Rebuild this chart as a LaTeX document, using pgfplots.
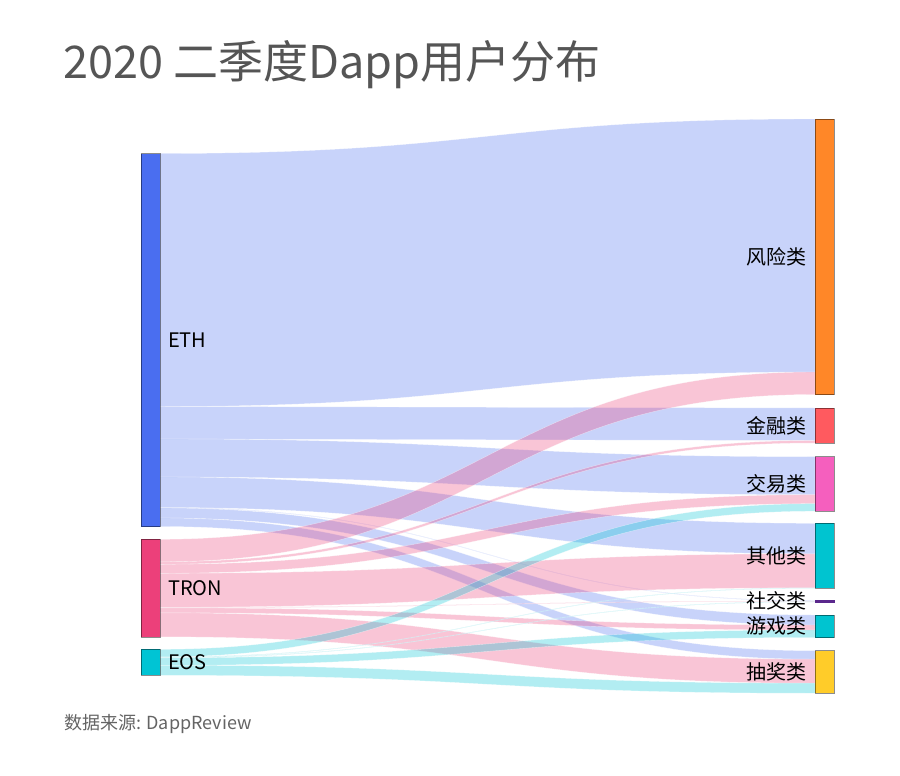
\documentclass[border=0pt]{standalone}
\usepackage{pgfplots}
\pgfplotsset{compat=1.18}
\usepackage{fontspec}
\setmainfont{Noto Sans CJK SC}
\definecolor{cETH}{RGB}{74,110,240}
\definecolor{cTRON}{RGB}{236,64,122}
\definecolor{cEOS}{RGB}{0,196,212}
\definecolor{cRisk}{RGB}{255,135,40}
\definecolor{cFin}{RGB}{255,90,95}
\definecolor{cEx}{RGB}{245,95,190}
\definecolor{cOther}{RGB}{0,196,208}
\definecolor{cSocial}{RGB}{90,40,140}
\definecolor{cGame}{RGB}{0,196,208}
\definecolor{cLot}{RGB}{255,204,41}
\definecolor{titlegray}{RGB}{85,85,85}
\definecolor{notegray}{RGB}{100,100,100}
% link: color, source top, source bottom, target top, target bottom
\newcommand{\link}[5]{%
  \fill[#1, fill opacity=0.3, draw=white, draw opacity=0.5, line width=0.4pt]
    (axis cs:160,#2) .. controls (axis cs:487.5,#2) and (axis cs:487.5,#4) .. (axis cs:815,#4)
    -- (axis cs:815,#5) .. controls (axis cs:487.5,#5) and (axis cs:487.5,#3) .. (axis cs:160,#3) -- cycle;}
\newcommand{\nodebox}[4]{% color, x0, y top, y bottom
  \addplot[fill=#1, draw=black, draw opacity=0.45, line width=0.5pt] coordinates {(#2,#3) ({#2+19},#3) ({#2+19},#4) (#2,#4)} -- cycle;}
\begin{document}
\begin{tikzpicture}
\begin{axis}[
  width=900pt, height=776pt, scale only axis,
  xmin=0, xmax=900, ymin=0, ymax=776, y dir=reverse,
  hide axis, clip=false,
]
\addplot[fill=white, draw=none] coordinates {(0,0) (900,0) (900,776) (0,776)} -- cycle;
% ETH links
\link{cETH}{153.5}{406.5}{119}{372}
\link{cETH}{406.5}{439}{408}{440.5}
\link{cETH}{439}{477}{456.7}{494.7}
\link{cETH}{477}{507.5}{523.3}{553.8}
\link{cETH}{507.5}{508}{600.5}{601}
\link{cETH}{508}{518}{615}{625}
\link{cETH}{518}{526.5}{650.7}{659.2}
% TRON links
\link{cTRON}{539.3}{561.8}{372}{394.5}
\link{cTRON}{561.8}{564.3}{440.5}{443}
\link{cTRON}{564.3}{573.3}{494.7}{503.7}
\link{cTRON}{573.3}{607.3}{553.8}{587.8}
\link{cTRON}{607.3}{607.8}{601}{601.5}
\link{cTRON}{607.8}{612.8}{625}{630}
\link{cTRON}{612.8}{636.8}{659.2}{683.2}
% EOS links
\link{cEOS}{649.3}{656.8}{503.7}{511.2}
\link{cEOS}{656.8}{657.3}{587.8}{588.3}
\link{cEOS}{657.3}{657.8}{601.5}{602}
\link{cEOS}{657.8}{665.3}{630}{637.5}
\link{cEOS}{665.3}{675.3}{683.2}{693.2}
% nodes
\nodebox{cETH}{141}{153.5}{526.5}
\nodebox{cTRON}{141}{539.3}{636.8}
\nodebox{cEOS}{141}{649.3}{675.3}
\nodebox{cRisk}{815}{119}{394.5}
\nodebox{cFin}{815}{408}{443}
\nodebox{cEx}{815}{456.7}{511.2}
\nodebox{cOther}{815}{523.3}{588.3}
\addplot[fill=cSocial, draw=cSocial, line width=0.6pt] coordinates {(815,600.5) (834,600.5) (834,602) (815,602)} -- cycle;
\nodebox{cGame}{815}{615}{637.5}
\nodebox{cLot}{815}{650.7}{693.2}
% labels
\node[anchor=west, font=\fontsize{20}{24}\selectfont, inner sep=0pt] at (axis cs:168,340) {ETH};
\node[anchor=west, font=\fontsize{20}{24}\selectfont, inner sep=0pt] at (axis cs:168,588) {TRON};
\node[anchor=west, font=\fontsize{20}{24}\selectfont, inner sep=0pt] at (axis cs:168,662.3) {EOS};
\node[anchor=east, font=\fontsize{20}{24}\selectfont, inner sep=0pt] at (axis cs:807,257) {风险类};
\node[anchor=east, font=\fontsize{20}{24}\selectfont, inner sep=0pt] at (axis cs:807,425.5) {金融类};
\node[anchor=east, font=\fontsize{20}{24}\selectfont, inner sep=0pt] at (axis cs:807,484) {交易类};
\node[anchor=east, font=\fontsize{20}{24}\selectfont, inner sep=0pt] at (axis cs:807,556) {其他类};
\node[anchor=east, font=\fontsize{20}{24}\selectfont, inner sep=0pt] at (axis cs:807,601.3) {社交类};
\node[anchor=east, font=\fontsize{20}{24}\selectfont, inner sep=0pt] at (axis cs:807,626.3) {游戏类};
\node[anchor=east, font=\fontsize{20}{24}\selectfont, inner sep=0pt] at (axis cs:807,672) {抽奖类};
% title and note
\node[anchor=west, text=titlegray, font=\fontsize{45}{54}\selectfont, inner sep=0pt] at (axis cs:63,65) {2020 二季度Dapp用户分布};
\node[anchor=west, text=notegray, font=\fontsize{18}{22}\selectfont, inner sep=0pt] at (axis cs:64,724) {数据来源: DappReview};
\end{axis}
\end{tikzpicture}
\end{document}
